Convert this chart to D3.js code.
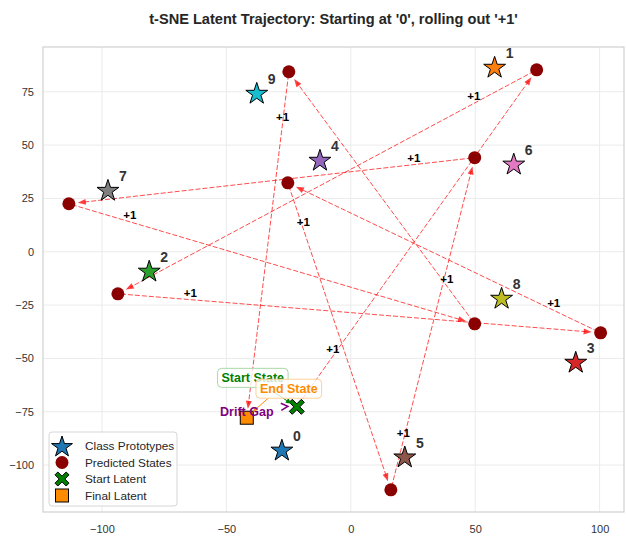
<!DOCTYPE html>
<html>
<head>
<meta charset="utf-8">
<script src="https://cdn.jsdelivr.net/npm/d3@7"></script>
<style>
  html, body { margin: 0; padding: 0; background: #fff; }
  svg { display: block; font-family: "Liberation Sans", Arial, sans-serif; }
</style>
</head>
<body>
<svg id="chart" width="626" height="536"></svg>
<script>
// Class prototype positions in the 2-D t-SNE embedding
const classLabels = ["0", "1", "2", "3", "4", "5", "6", "7", "8", "9"];
const protoX = [-27.7, 57.8, -81.0, 90.4, -12.4, 21.7, 65.5, -97.6, 60.6, -37.8];
const protoY = [-92.8, 86.7, -8.9, -51.6, 43.1, -96.0, 41.3, 29.0, -21.6, 74.5];

// Predicted states, in rollout order
const predX = [74.7, -93.6, 100.4, -25.3, 16.1, 49.8, -113.3, 49.8, -24.9];
const predY = [85.3, -19.7, -38.0, 32.3, -111.6, 44.1, 22.5, -33.8, 84.4];

// Start latent and final latent
const startLatent = [-21.7, -72.7];
const finalLatent = [-41.8, -77.8];

const stepLabel = "+1";
const xTicks = [-100, -50, 0, 50, 100];
const yTicks = [-100, -75, -50, -25, 0, 25, 50, 75];
const protoColors = d3.schemeCategory10;

const svg = d3.select("#chart");
const plotLeft = 43, plotRight = 624, plotTop = 47, plotBottom = 512;

const x = d3.scaleLinear().domain([-123.7, 109.8]).range([plotLeft, plotRight]);
const y = d3.scaleLinear().domain([-122, 96]).range([plotBottom, plotTop]);

// Title
svg.append("text")
  .attr("x", (plotLeft + plotRight) / 2).attr("y", 24)
  .attr("text-anchor", "middle")
  .attr("font-size", 14.6).attr("font-weight", "bold").attr("fill", "#262626")
  .text("t-SNE Latent Trajectory: Starting at '0', rolling out '+1'");

// Grid
const grid = svg.append("g");
grid.selectAll(".gx").data(xTicks).enter().append("line")
  .attr("x1", d => x(d)).attr("x2", d => x(d)).attr("y1", plotTop).attr("y2", plotBottom)
  .attr("stroke", "#ebebeb").attr("stroke-width", 1);
grid.selectAll(".gy").data(yTicks).enter().append("line")
  .attr("y1", d => y(d)).attr("y2", d => y(d)).attr("x1", plotLeft).attr("x2", plotRight)
  .attr("stroke", "#ebebeb").attr("stroke-width", 1);

// Axes
const fmt = d => d < 0 ? "\u2212" + Math.abs(d) : d;
const xAxis = svg.append("g").attr("transform", `translate(0,${plotBottom})`)
  .call(d3.axisBottom(x).tickValues(xTicks).tickSize(0).tickPadding(13).tickFormat(fmt));
const yAxis = svg.append("g").attr("transform", `translate(${plotLeft},0)`)
  .call(d3.axisLeft(y).tickValues(yTicks).tickSize(0).tickPadding(9).tickFormat(fmt));
[xAxis, yAxis].forEach(a => {
  a.select(".domain").remove();
  a.selectAll("text").attr("font-size", 11).attr("fill", "#333")
    .attr("font-family", "'Liberation Sans', Arial, sans-serif");
});

// Frame
svg.append("rect").attr("x", plotLeft).attr("y", plotTop)
  .attr("width", plotRight - plotLeft).attr("height", plotBottom - plotTop)
  .attr("fill", "none").attr("stroke", "#d0d0d0").attr("stroke-width", 1.2);

const plot = svg.append("g");

// Trajectory points in pixel space
const path = [startLatent].concat(predX.map((v, i) => [v, predY[i]])).concat([finalLatent]);
const pts = path.map(p => [x(p[0]), y(p[1])]);

// Dashed arrows between consecutive states
const arrows = plot.append("g");
const labels = plot.append("g");
for (let i = 0; i < pts.length - 1; i++) {
  const [x0, y0] = pts[i], [x1, y1] = pts[i + 1];
  const dx = x1 - x0, dy = y1 - y0, len = Math.hypot(dx, dy);
  const ux = dx / len, uy = dy / len;
  const sx = x0 + ux * 3, sy = y0 + uy * 3;
  const ex = x1 - ux * 9, ey = y1 - uy * 9;
  const hl = 8, hw = 3;
  arrows.append("line")
    .attr("x1", sx).attr("y1", sy).attr("x2", ex - ux * hl * 0.6).attr("y2", ey - uy * hl * 0.6)
    .attr("stroke", "red").attr("stroke-opacity", 0.7).attr("stroke-width", 1)
    .attr("stroke-dasharray", "5,2");
  const bx = ex - ux * hl, by = ey - uy * hl;
  arrows.append("path")
    .attr("d", `M${ex},${ey}L${bx - uy * hw},${by + ux * hw}L${bx + uy * hw},${by - ux * hw}Z`)
    .attr("fill", "red").attr("fill-opacity", 0.75);
  labels.append("text")
    .attr("x", x0 + dx * 0.15).attr("y", y0 + dy * 0.15 - 7)
    .attr("text-anchor", "middle").attr("dominant-baseline", "central")
    .attr("font-size", 11.5).attr("font-weight", "bold").attr("fill", "#000")
    .text(stepLabel);
}

// Star shape
function starPath(R) {
  const r = R * 0.382;
  let d = "";
  for (let k = 0; k < 10; k++) {
    const a = -Math.PI / 2 + k * Math.PI / 5;
    const rr = k % 2 === 0 ? R : r;
    d += (k === 0 ? "M" : "L") + (rr * Math.cos(a)).toFixed(2) + "," + (rr * Math.sin(a)).toFixed(2);
  }
  return d + "Z";
}
// Filled X shape
function xPath(s, w) {
  const a = w / Math.SQRT2;
  const pts2 = [
    [0, -a], [s - a, -s], [s, -s + a], [a, 0], [s, s - a], [s - a, s],
    [0, a], [-s + a, s], [-s, s - a], [-a, 0], [-s, -s + a], [-s + a, -s]
  ];
  return "M" + pts2.map(p => p.join(",")).join("L") + "Z";
}

// Predicted states
plot.append("g").selectAll("circle").data(predX).enter().append("circle")
  .attr("cx", d => x(d)).attr("cy", (d, i) => y(predY[i])).attr("r", 6.5)
  .attr("fill", "#8b0000");

// Class prototypes
const protos = plot.append("g");
classLabels.forEach((lab, i) => {
  const px = x(protoX[i]), py = y(protoY[i]);
  protos.append("path").attr("d", starPath(11.5))
    .attr("transform", `translate(${px},${py + 1})`)
    .attr("fill", protoColors[i]).attr("stroke", "#000").attr("stroke-width", 1)
    .attr("stroke-linejoin", "miter");
  protos.append("text").attr("x", px + 15).attr("y", py - 14)
    .attr("text-anchor", "middle").attr("dominant-baseline", "central")
    .attr("font-size", 14).attr("font-weight", "bold").attr("fill", "#333")
    .text(lab);
});

// Start and final latents
const sX = x(startLatent[0]), sY = y(startLatent[1]);
const fX = x(finalLatent[0]), fY = y(finalLatent[1]);
plot.append("rect").attr("x", fX - 6.5).attr("y", fY - 6.5).attr("width", 13).attr("height", 13)
  .attr("fill", "#ff8c00").attr("stroke", "#000").attr("stroke-width", 1);
plot.append("path").attr("d", xPath(7.5, 4.2)).attr("transform", `translate(${sX},${sY})`)
  .attr("fill", "green").attr("stroke", "#000").attr("stroke-width", 1);

// Annotations
const ann = svg.append("g");
function arrowTo(g, x0, y0, x1, y1, color, head) {
  const dx = x1 - x0, dy = y1 - y0, len = Math.hypot(dx, dy);
  const ux = dx / len, uy = dy / len;
  g.append("line").attr("x1", x0).attr("y1", y0)
    .attr("x2", x1 - ux * head * 0.5).attr("y2", y1 - uy * head * 0.5)
    .attr("stroke", color).attr("stroke-width", 1);
  const bx = x1 - ux * head, by = y1 - uy * head, hw = head * 0.45;
  g.append("path")
    .attr("d", `M${x1},${y1}L${bx - uy * hw},${by + ux * hw}L${bx + uy * hw},${by - ux * hw}Z`)
    .attr("fill", color);
}
function boxedLabel(g, cx, cy, text, color, edge) {
  const t = g.append("text").attr("x", cx).attr("y", cy)
    .attr("text-anchor", "middle").attr("dominant-baseline", "central")
    .attr("font-size", 12.5).attr("font-weight", "bold").attr("fill", color).text(text);
  const bb = t.node().getBBox();
  g.insert("rect", () => t.node())
    .attr("x", bb.x - 4).attr("y", cy - 9.5).attr("width", bb.width + 8).attr("height", 19)
    .attr("rx", 4).attr("fill", "#fff").attr("fill-opacity", 0.8)
    .attr("stroke", edge).attr("stroke-width", 1);
}
// Start State
arrowTo(ann, sX - 25, sY - 16, sX - 5, sY - 3, "green", 6);
boxedLabel(ann, sX - 44, sY - 29, "Start State", "green", "#a9d8a9");
// End State
arrowTo(ann, fX + 22, fY - 20, fX + 6, fY - 6, "#ff8c00", 5);
boxedLabel(ann, fX + 42, fY - 29, "End State", "#ff8c00", "#ffd09a");
// Drift gap: open arrowhead pointing at the start latent
ann.append("path")
  .attr("d", `M${sX - 16},${sY - 3.5}L${sX - 9},${sY - 0.5}L${sX - 15.5},${sY + 3.5}`)
  .attr("fill", "none").attr("stroke", "purple").attr("stroke-width", 1.6);
ann.append("text").attr("x", sX - 50).attr("y", sY + 5)
  .attr("text-anchor", "middle").attr("dominant-baseline", "central")
  .attr("font-size", 12.5).attr("font-weight", "bold").attr("fill", "purple").text("Drift Gap");

// Legend
const lg = svg.append("g").attr("transform", "translate(49,432)");
lg.append("rect").attr("width", 128).attr("height", 74).attr("rx", 3)
  .attr("fill", "#fff").attr("fill-opacity", 0.85).attr("stroke", "#d6d6d6");
const legendItems = ["Class Prototypes", "Predicted States", "Start Latent", "Final Latent"];
legendItems.forEach((name, i) => {
  const cy = 14 + i * 16.5, cx = 13;
  if (i === 0) lg.append("path").attr("d", starPath(11)).attr("transform", `translate(${cx},${cy + 1})`)
    .attr("fill", protoColors[0]).attr("stroke", "#000");
  if (i === 1) lg.append("circle").attr("cx", cx).attr("cy", cy).attr("r", 6.5).attr("fill", "#8b0000");
  if (i === 2) lg.append("path").attr("d", xPath(7, 4)).attr("transform", `translate(${cx},${cy})`)
    .attr("fill", "green").attr("stroke", "#000");
  if (i === 3) lg.append("rect").attr("x", cx - 6.5).attr("y", cy - 6.5).attr("width", 13).attr("height", 13)
    .attr("fill", "#ff8c00").attr("stroke", "#000");
  lg.append("text").attr("x", 36).attr("y", cy).attr("dominant-baseline", "central")
    .attr("font-size", 11.8).attr("fill", "#262626").text(name);
});
</script>
</body>
</html>
